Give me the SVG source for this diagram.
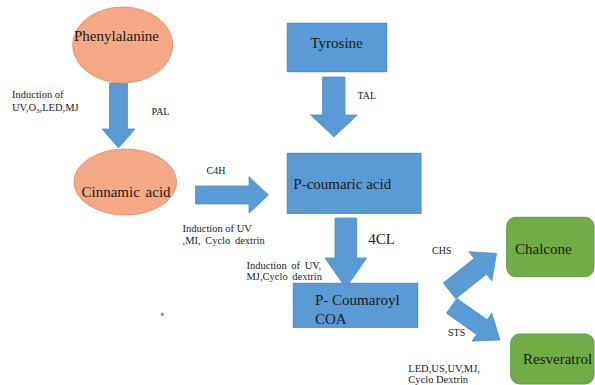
<svg xmlns="http://www.w3.org/2000/svg" width="595" height="385" viewBox="0 0 595 385">
  <style>
    .ell { fill: #F4A886; stroke: #E8956F; stroke-width: 1; }
    .box { fill: #5B9BD5; stroke: #4A86C0; stroke-width: 1; }
    .gbox { fill: #70AD47; stroke: #5E9A3A; stroke-width: 1; }
    .arr { fill: #5B9BD5; stroke: #4F8FCB; stroke-width: 0.8; }
    text { font-family: 'Liberation Serif', 'Times New Roman', serif; fill: #1a1a1a; }
    .big { font-size: 15px; }
    .small { font-size: 10px; }
    .ind { font-size: 10.5px; }
  </style>
  <rect width="595" height="385" fill="#ffffff"/>

  <g id="connectors">
    <polygon class="arr" points="109.5,83 127.5,83 127.5,129 135,129 118.5,148 102,129 109.5,129"/>
    <polygon class="arr" points="322.5,77 345,77 345,115 357.3,115 334,137 310.7,115 322.5,115"/>
    <polygon class="arr" points="195.5,186 249,186 249,176.7 268.5,195 249,213.3 249,204 195.5,204"/>
    <polygon class="arr" transform="translate(449.5,290.8) rotate(-38.5)" points="0,-10 39.4,-10 39.4,-18.5 60,0 39.4,18.5 39.4,10 0,10"/>
    <polygon class="arr" transform="translate(451.7,305.8) rotate(35.3)" points="0,-9 37,-9 37,-17 59,0 37,17 37,9 0,9"/>
    <text class="small" x="151.5" y="115">PAL</text>
    <text class="small" x="357.5" y="99">TAL</text>
    <text class="small" x="206.5" y="173.5">C4H</text>
    <text class="big" x="368.3" y="243.5">4CL</text>
    <text class="small" x="432" y="253.5">CHS</text>
    <text class="small" x="448" y="336">STS</text>
  </g>

  <g id="phenylalanine">
    <ellipse class="ell" cx="122.7" cy="45" rx="50" ry="38"/>
    <text class="big" x="74" y="41">Phenylalanine</text>
  </g>

  <g id="cinnamic-acid">
    <ellipse class="ell" cx="125.3" cy="182" rx="51.3" ry="33"/>
    <text class="big" x="81.5" y="197" word-spacing="2">Cinnamic acid</text>
  </g>

  <g id="tyrosine">
    <rect class="box" x="287.3" y="23.3" width="99.4" height="48.4"/>
    <text class="big" x="310.5" y="47.5">Tyrosine</text>
  </g>

  <g id="p-coumaric-acid">
    <rect class="box" x="287.3" y="153.3" width="133.7" height="60"/>
    <text class="big" x="293.3" y="188.5">P-coumaric acid</text>
  </g>

  <g id="p-coumaroyl-coa">
    <rect class="box" x="293.3" y="283.3" width="124.4" height="44"/>
    <text class="big" x="315" y="305">P- Coumaroyl</text>
    <text class="big" x="315" y="323.5">COA</text>
  </g>

  <g id="arrow-4cl">
    <polygon class="arr" points="335,218 356.7,218 356.7,258 366.7,258 345.8,288 325,258 335,258"/>
  </g>

  <g id="chalcone">
    <rect class="gbox" x="506.7" y="217.3" width="87.3" height="59.4" rx="9" ry="9"/>
    <text class="big" x="515" y="253.5">Chalcone</text>
  </g>

  <g id="resveratrol">
    <rect class="gbox" x="510.7" y="334" width="83.3" height="50" rx="9" ry="9"/>
    <text class="big" x="523" y="364">Resveratrol</text>
  </g>

  <g id="induction-labels">
    <text class="ind" x="12" y="98">Induction of</text>
    <text class="ind" x="12" y="111">UV,O<tspan font-size="7" dy="2">3</tspan><tspan dy="-2">,LED,MJ</tspan></text>
    <text class="ind" x="182.5" y="231.5">Induction of UV</text>
    <text class="ind" x="182.5" y="243.5" word-spacing="2">,MI, Cyclo dextrin</text>
    <text class="ind" x="246.5" y="268.5" word-spacing="2">Induction of UV,</text>
    <text class="ind" x="246.5" y="279.5" word-spacing="2">MJ,Cyclo dextrin</text>
    <text class="ind" x="408.3" y="371.5">LED,US,UV,MJ,</text>
    <text class="ind" x="408.3" y="382.7">Cyclo Dextrin</text>
  </g>

  <circle cx="162.3" cy="314.3" r="1.6" fill="#5B9BD5"/>
</svg>
